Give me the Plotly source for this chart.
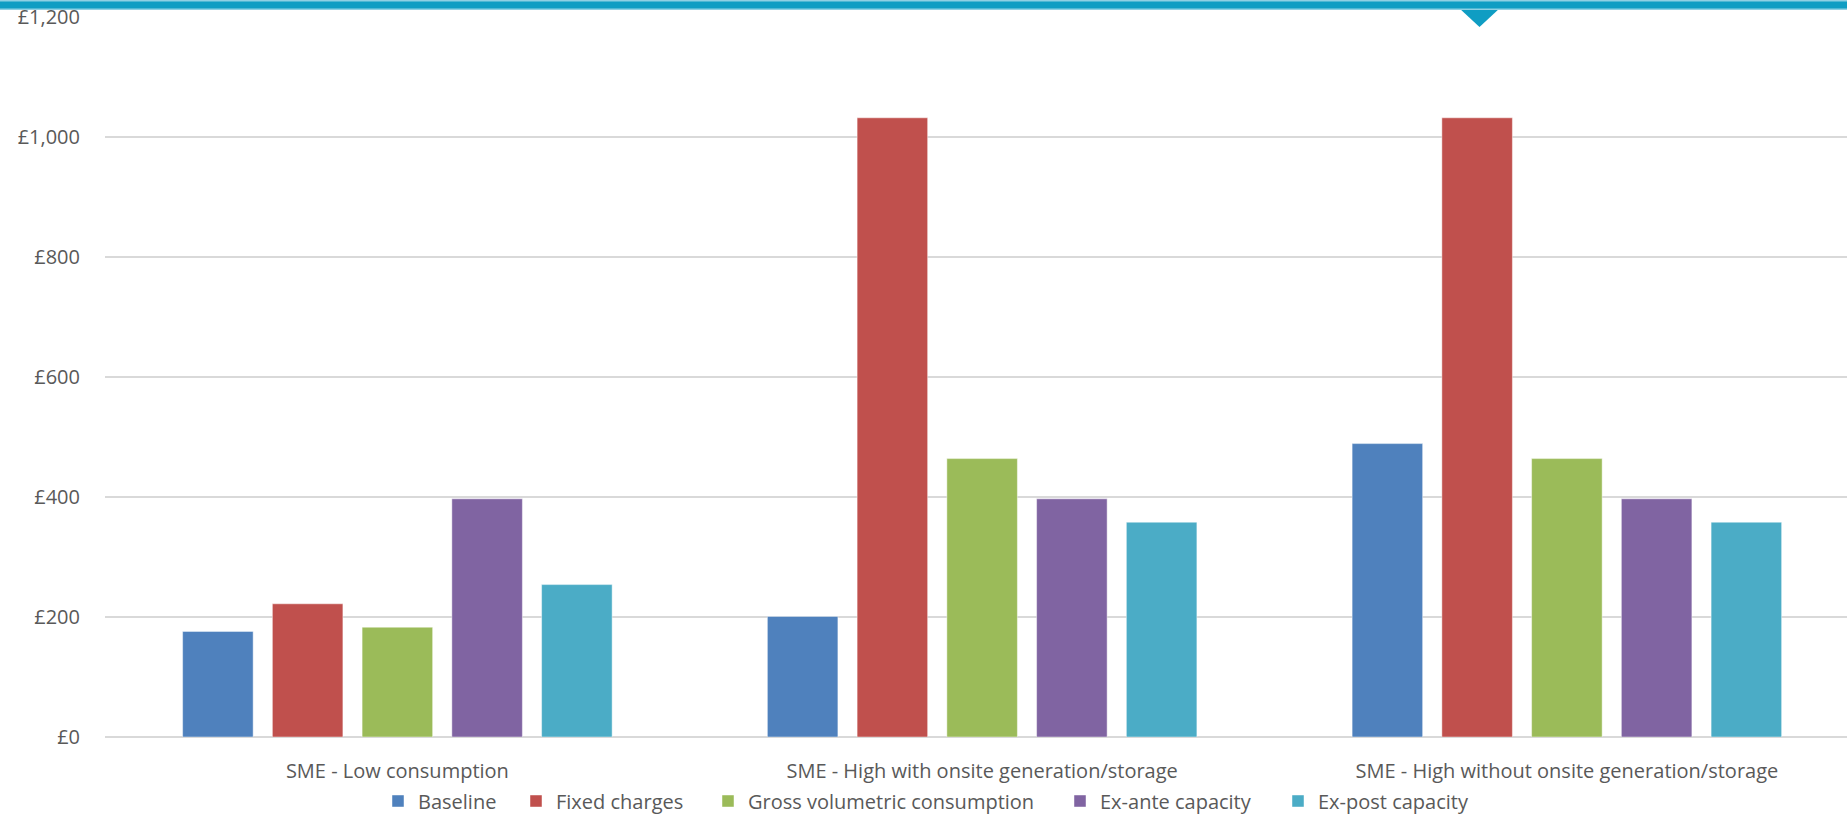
import plotly.graph_objects as go

# Annual charge per SME customer type under each charging option (£)
categories = [
    "SME - Low consumption",
    "SME - High with onsite generation/storage",
    "SME - High without onsite generation/storage",
]
baseline = [176, 201, 489]
fixed_charges = [222, 1032, 1032]
gross_volumetric = [183, 464, 464]
ex_ante_capacity = [397, 397, 397]
ex_post_capacity = [254, 358, 358]

series_names = [
    "Baseline",
    "Fixed charges",
    "Gross volumetric consumption",
    "Ex-ante capacity",
    "Ex-post capacity",
]
series_values = [baseline, fixed_charges, gross_volumetric, ex_ante_capacity, ex_post_capacity]
series_colors = ["#4F81BD", "#C0504D", "#9BBB59", "#8064A2", "#4BACC6"]

y_tick_values = [0, 200, 400, 600, 800, 1000, 1200]
y_tick_labels = ["&#163;0", "&#163;200", "&#163;400", "&#163;600",
                 "&#163;800", "&#163;1,000", "&#163;1,200"]

FONT = "Open Sans, Noto Sans, DejaVu Sans, sans-serif"
TEXT_COLOR = "#595959"
ACCENT = "#0F9DC3"

W, H = 1847, 815
LEFT, TOP, BOTTOM = 105, 17, 78
plot_w = W - LEFT
plot_h = H - TOP - BOTTOM


def px_x(px):
    return (px - LEFT) / plot_w


def px_y(py):
    return (H - BOTTOM - py) / plot_h


# left edge (px) of each legend swatch along the bottom row
legend_swatch_left = [392, 530, 722, 1074, 1292]

fig = go.Figure()
legend_layouts = {}
for i, (name, vals, col) in enumerate(zip(series_names, series_values, series_colors)):
    key = "legend" if i == 0 else f"legend{i + 1}"
    fig.add_trace(
        go.Bar(
            name=name,
            x=categories,
            y=vals,
            marker=dict(color=col, line=dict(color="rgba(255,255,255,0.45)", width=1)),
            legend=key,
        )
    )
    legend_layouts[key] = dict(
        orientation="h",
        x=px_x(legend_swatch_left[i] - 14),
        xanchor="left",
        y=px_y(801),
        yanchor="middle",
        font=dict(family=FONT, size=20, color=TEXT_COLOR),
        bgcolor="rgba(0,0,0,0)",
        borderwidth=0,
        itemclick=False,
        itemdoubleclick=False,
    )

fig.update_layout(
    width=W,
    height=H,
    margin=dict(l=LEFT, r=0, t=TOP, b=BOTTOM, pad=0, autoexpand=False),
    paper_bgcolor="white",
    plot_bgcolor="white",
    barmode="group",
    bargap=0.2326,
    bargroupgap=0.214,
    font=dict(family=FONT, size=20, color=TEXT_COLOR),
    showlegend=True,
    xaxis=dict(
        type="category",
        range=[-0.5, -0.5 + plot_w / 584.75],
        showgrid=False,
        showline=False,
        zeroline=False,
        ticks="outside",
        ticklen=16,
        tickcolor="rgba(0,0,0,0)",
        tickfont=dict(family=FONT, size=20, color=TEXT_COLOR),
    ),
    yaxis=dict(
        range=[0, 1200],
        tickmode="array",
        tickvals=y_tick_values,
        ticktext=y_tick_labels,
        showgrid=True,
        gridcolor="#D9D9D9",
        gridwidth=1.5,
        zeroline=True,
        zerolinecolor="#D9D9D9",
        zerolinewidth=1.5,
        showline=False,
        ticks="outside",
        ticklen=20,
        tickcolor="rgba(0,0,0,0)",
        tickfont=dict(family=FONT, size=20, color=TEXT_COLOR),
    ),
    **legend_layouts,
)

# Header band across the top edge with its down-pointing marker
fig.add_shape(
    type="rect", xref="paper", yref="paper",
    x0=px_x(0), x1=px_x(W), y0=px_y(10), y1=px_y(0),
    fillcolor="#8FD0E3", line=dict(width=0), layer="above",
)
fig.add_shape(
    type="rect", xref="paper", yref="paper",
    x0=px_x(0), x1=px_x(W), y0=px_y(8.5), y1=px_y(1.5),
    fillcolor=ACCENT, line=dict(width=0), layer="above",
)
fig.add_shape(
    type="path", xref="paper", yref="paper",
    path=(
        f"M {px_x(1459)} {px_y(8)} L {px_x(1500)} {px_y(8)} "
        f"L {px_x(1479.5)} {px_y(27)} Z"
    ),
    fillcolor=ACCENT, line=dict(width=0), layer="below",
)

fig.write_html("out.html")
